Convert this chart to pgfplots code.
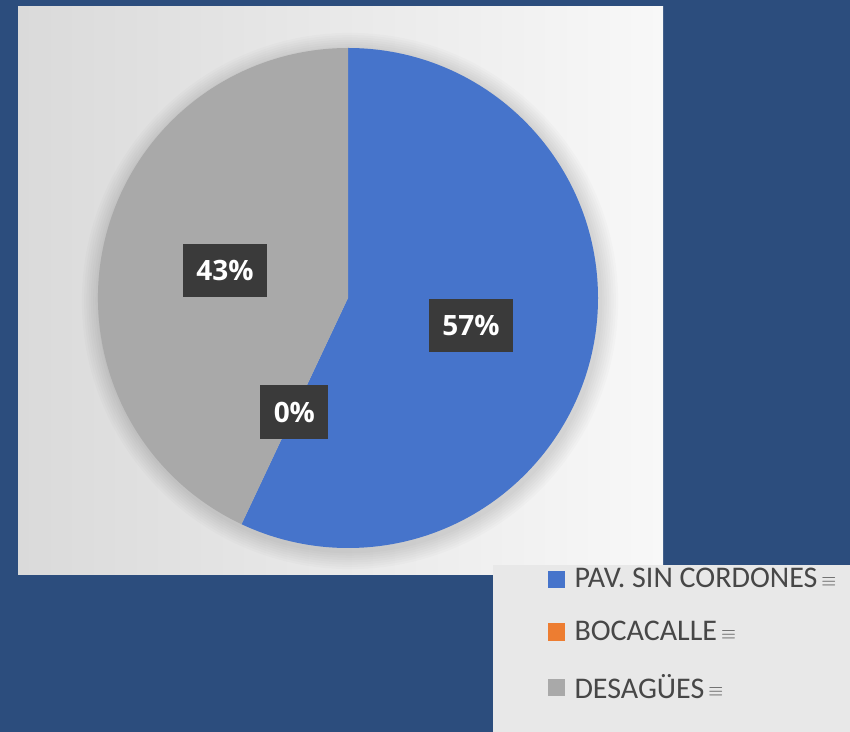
\documentclass[border=0pt]{standalone}
\usepackage{pgfplots}
\pgfplotsset{compat=1.18}
\usepackage{pgfplotstable}
\usepackage{fontspec}
\setmainfont{Carlito}
\newfontfamily\labelfont{Open Sans}

\definecolor{bgblue}{HTML}{2C4D7D}
\definecolor{panelL}{HTML}{DADADA}
\definecolor{panelR}{HTML}{F8F8F8}
\definecolor{legbg}{HTML}{E8E8E8}
\definecolor{pavblue}{HTML}{4674CB}
\definecolor{bocaorange}{HTML}{ED7D31}
\definecolor{desgray}{HTML}{A9A9A9}
\definecolor{boxdark}{HTML}{3A3A3A}
\definecolor{legtext}{HTML}{474747}

% shares in percent
\pgfplotstableread{
name value
PAV 57
BOC 0
DES 43
}\piedata

\pgfplotstablegetelem{0}{value}\of\piedata \let\vA\pgfplotsretval
\pgfplotstablegetelem{1}{value}\of\piedata \let\vB\pgfplotsretval
\pgfplotstablegetelem{2}{value}\of\piedata \let\vC\pgfplotsretval

% pie centre and radius (axis units = px)
\def\cx{348}\def\cy{434}\def\R{250}
\pgfmathsetmacro\aA{90}
\pgfmathsetmacro\aB{\aA-3.6*\vA}
\pgfmathsetmacro\aC{\aB-3.6*\vB}
\pgfmathsetmacro\aD{\aC-3.6*\vC}
% slice start points
\pgfmathsetmacro\pAx{\cx+\R*cos(\aA)}\pgfmathsetmacro\pAy{\cy+\R*sin(\aA)}
\pgfmathsetmacro\pCx{\cx+\R*cos(\aC)}\pgfmathsetmacro\pCy{\cy+\R*sin(\aC)}
% label positions at half radius, mid angle
\pgfmathsetmacro\lAx{\cx+126*cos((\aA+\aB)/2)}\pgfmathsetmacro\lAy{\cy+126*sin((\aA+\aB)/2)}
\pgfmathsetmacro\lBx{\cx+126*cos((\aB+\aC)/2)}\pgfmathsetmacro\lBy{\cy+126*sin((\aB+\aC)/2)}
\pgfmathsetmacro\lCx{\cx+126*cos((\aC+\aD)/2)}\pgfmathsetmacro\lCy{\cy+126*sin((\aC+\aD)/2)}

% small "more" glyph after each legend entry
\newcommand\menu{\hspace{3pt}\raisebox{1pt}{\color{legtext!95}\fontsize{14}{14}\selectfont$\equiv$}}

\begin{document}
\begin{tikzpicture}
\begin{axis}[
    x=0.75pt, y=0.75pt,
    xmin=0, xmax=850, ymin=0, ymax=732,
    hide axis, clip=false,
    legend cell align=left,
    legend image code/.code={\fill[#1,draw=none] (0pt,-6.4pt) rectangle (12.8pt,6.4pt);
        \path (17.3pt,0pt);},
    legend style={at={(0.6395,0.232)}, anchor=north west, draw=none, fill=none,
        font=\fontsize{22.5}{26}\selectfont, text=legtext,
        row sep=18.5pt, nodes={inner sep=2.5pt}},
]
% background and panels
\fill[bgblue] (axis cs:0,0) rectangle (axis cs:850,732);
\shade[left color=panelL, right color=panelR] (axis cs:18,157) rectangle (axis cs:663,725);
% soft shadow round the pie
\pgfplotsinvokeforeach{1,...,8}{
  \fill[black,opacity=0.016] (axis cs:350,431) circle[radius=187.5pt+#1*1.7pt];
}
% slices
\fill[pavblue] (axis cs:\cx,\cy) -- (axis cs:\pAx,\pAy)
    arc[start angle=\aA, end angle=\aB, radius=187.5pt] -- cycle;
\fill[desgray] (axis cs:\cx,\cy) -- (axis cs:\pCx,\pCy)
    arc[start angle=\aC, end angle=\aD, radius=187.5pt] -- cycle;
% data labels
\tikzset{lbl/.style={fill=boxdark, text=white, inner xsep=10pt, minimum height=40pt,
    font=\labelfont\bfseries\fontsize{21}{21}\selectfont}}
\node[lbl] at (axis cs:\lAx,\lAy) {\vA\%};
\node[lbl] at (axis cs:\lBx,\lBy) {\vB\%};
\node[lbl] at (axis cs:\lCx,\lCy) {\vC\%};
% legend box
\fill[legbg] (axis cs:493,0) rectangle (axis cs:850,167);

\addlegendimage{fill=pavblue}
\addlegendentry{PAV. SIN CORDONES\menu}
\addlegendimage{fill=bocaorange}
\addlegendentry{BOCACALLE\menu}
\addlegendimage{fill=desgray}
\addlegendentry{DESAGÜES\menu}
\end{axis}
\end{tikzpicture}
\end{document}
